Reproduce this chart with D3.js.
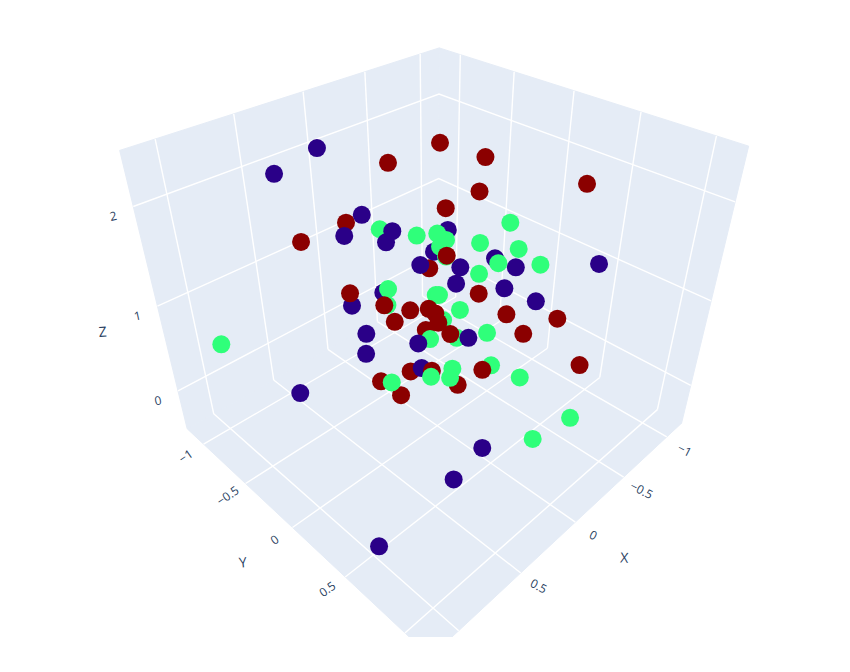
<!DOCTYPE html>
<html>
<head>
<meta charset="utf-8">
<script src="https://cdn.jsdelivr.net/npm/d3@7/dist/d3.min.js"></script>
<style>
html,body{margin:0;padding:0;background:#fff;}
svg{display:block;}
text{font-family:"Open Sans",sans-serif;fill:#2a3f5f;}
</style>
</head>
<body>
<svg id="chart" width="850" height="672"></svg>
<script>
// ---- data (listed in painter's order) ----
const pointGroup = [2,2,2,2,2,2,2, 1,1,1,
  0,0,0,0,0,0,0,0,0,0,0,0,0,0,0,0,0,0,0,0,0,0,0,0,0,0,0,
  2,
  1,1,1,1,1,1,1,1,1,1,1,1,1,1,1,1,1,1,1,1,1,1,1,1,1,1,1,
  2,2,2,2,2,2,2,2,2,2,2,2,2,2,2,2,2,2,2,2,2,2];
const pointX = [0.193,-0.049,0.283,0.433,0.382,0.117,0.116, 0.066,0.005,0.121,
  0.379,0.134,0.107,0.233,0.071,0.017,-0.222,-0.110,-0.019,-0.183,-0.125,-0.353,-0.419,-0.319,-0.421,-0.781,0.206,0.371,0.379,0.429,0.182,-0.045,0.228,0.805,0.166,0.365,0.951,
  0.191,
  1.021,-0.076,-0.190,-0.148,-0.149,-0.168,-0.505,-0.327,-0.476,-0.355,-0.530,-0.247,0.177,0.219,-0.011,-0.025,0.019,-0.077,-0.136,0.209,0.099,0.131,-0.074,-0.166,0.390,-0.281,-0.070,
  -0.402,-0.132,-0.560,-0.451,-0.266,-0.926,0.431,-0.154,-0.197,0.349,0.233,0.135,0.229,0.053,0.036,0.046,0.023,-0.264,-0.288,-0.470,-0.450,-0.026];
const pointY = [-0.609,-0.125,0.056,-0.050,0.074,0.017,0.298, -0.443,0.174,0.059,
  -1.051,-0.927,-0.559,-0.583,-0.382,-0.383,-0.141,-0.146,-0.173,0.010,0.033,0.140,0.255,0.258,0.430,0.614,-0.266,-0.371,-0.236,-0.186,0.018,0.225,0.096,-0.377,0.567,0.521,0.497,
  0.148,
  -0.850,-0.264,-0.123,-0.133,-0.081,-0.178,0.117,0.035,0.221,0.167,0.357,0.109,-0.254,-0.216,-0.028,-0.014,0.068,0.117,0.295,0.159,0.233,0.246,0.395,0.553,0.000,0.878,0.767,
  -0.397,-0.576,-0.160,-0.099,-0.205,0.357,-0.759,-0.080,0.158,-0.411,-0.229,-0.102,-0.141,-0.024,0.017,0.054,0.136,0.333,0.457,0.569,0.786,0.368];
const pointZ = [1.590,1.257,0.505,0.432,0.332,0.806,0.407, 1.542,0.750,0.741,
  1.946,2.134,1.647,1.493,1.447,1.527,1.537,1.378,1.281,1.264,1.145,1.330,1.264,1.111,1.016,1.289,1.079,0.984,0.779,0.633,0.709,0.750,0.529,0.346,-0.054,-0.284,-0.455,
  0.509,
  0.702,1.495,1.464,1.415,1.342,1.510,1.590,1.442,1.398,1.294,1.283,1.216,1.106,0.989,1.062,1.062,0.879,0.953,0.787,0.465,0.524,0.458,0.548,0.461,0.424,0.166,0.012,
  2.173,2.026,2.068,1.818,1.696,1.873,1.449,1.349,1.072,1.075,0.987,0.950,0.867,0.962,0.928,0.860,0.777,0.921,0.779,0.889,0.551,0.516];
const groupColors = ["#2a0088","#2fff7a","#8b0000"];
const xTicks = [-1,-0.5,0,0.5,1];
const yTicks = [-1,-0.5,0,0.5,1];
const zTicks = [0,1,2];
const xLabels = [-1,-0.5,0,0.5];
const yLabels = [-1,-0.5,0,0.5];
const xDomain = [-1.185,1.206];
const yDomain = [-1.211,1.196];
const zDomain = [-0.5,2.495];

// ---- 3D scales and camera ----
const bx = d3.scaleLinear().domain([-1.184,1.220]).range([-0.536,0.536]);
const by = d3.scaleLinear().domain([-1.2185,1.188]).range([-0.516,0.516]);
const bz = d3.scaleLinear().domain([-0.5,2.5]).range([-0.45,0.45]);
const eyeDist = 1.25*Math.sqrt(3), focal = 808, cx = 433.8, cy = 303.5;
function project(x,y,z){
  const px=bx(x), py=by(y), pz=bz(z);
  const X=(py-px)/Math.SQRT2, Y=(2*pz-px-py)/Math.sqrt(6), D=eyeDist-(px+py+pz)/Math.sqrt(3);
  return [cx+focal*X/D, cy-focal*Y/D];
}
const [x0,x1]=xDomain,[y0,y1]=yDomain,[z0,z1]=zDomain;
const svg=d3.select("#chart");
svg.append("defs").append("clipPath").attr("id","sceneClip").append("rect")
  .attr("x",0).attr("y",0).attr("width",850).attr("height",637);
const scene=svg.append("g").attr("clip-path","url(#sceneClip)");

// panes
const line=d3.line();
const panes=[
  [[x0,y0,z0],[x1,y0,z0],[x1,y0,z1],[x0,y0,z1]],
  [[x0,y0,z0],[x0,y1,z0],[x0,y1,z1],[x0,y0,z1]],
  [[x0,y0,z0],[x1,y0,z0],[x1,y1,z0],[x0,y1,z0]]
];
scene.selectAll("path.pane").data(panes).join("path").attr("class","pane")
  .attr("d",d=>line(d.map(p=>project(...p)))+"Z")
  .attr("fill","#E5ECF6").attr("stroke","#E5ECF6").attr("stroke-width",1);

// grid
const grid=[];
xTicks.forEach(t=>{grid.push([[t,y0,z0],[t,y1,z0]]);grid.push([[t,y0,z0],[t,y0,z1]]);});
yTicks.forEach(t=>{grid.push([[x0,t,z0],[x1,t,z0]]);grid.push([[x0,t,z0],[x0,t,z1]]);});
zTicks.forEach(t=>{grid.push([[x1,y0,t],[x0,y0,t],[x0,y1,t]]);});
scene.selectAll("path.grid").data(grid).join("path").attr("class","grid")
  .attr("d",d=>line(d.map(p=>project(...p))))
  .attr("fill","none").attr("stroke","#fff").attr("stroke-width",1.4);

// points
const idx=d3.range(pointX.length);
scene.selectAll("circle").data(idx).join("circle")
  .attr("cx",i=>project(pointX[i],pointY[i],pointZ[i])[0])
  .attr("cy",i=>project(pointX[i],pointY[i],pointZ[i])[1])
  .attr("r",9)
  .attr("fill",i=>groupColors[pointGroup[i]]);

// tick labels
const fmt=d3.format("~g");
function label(pt,dx,dy,rot,txt,size){
  const [sx,sy]=project(...pt);
  scene.append("text").attr("transform",`translate(${sx+dx},${sy+dy}) rotate(${rot})`)
    .attr("text-anchor","middle").attr("dominant-baseline","central")
    .attr("font-size",size).text(txt);
}
xLabels.forEach(t=>label([t,y1,z0],18,13,27,fmt(t),12));
yLabels.forEach(t=>label([x1,t,z0],-18,12,-35,fmt(t),12));
zTicks.forEach(t=>label([x1,y0,t],-20,9.5,-12,fmt(t),12));
label([(x0+x1)/2,y1,z0],50,34,3,"X",14);
label([x1,(y0+y1)/2,z0],-49,35,-6,"Y",14);
label([x1,y0,(z0+z1)/2],-55,25,-4,"Z",14);
</script>
</body>
</html>
